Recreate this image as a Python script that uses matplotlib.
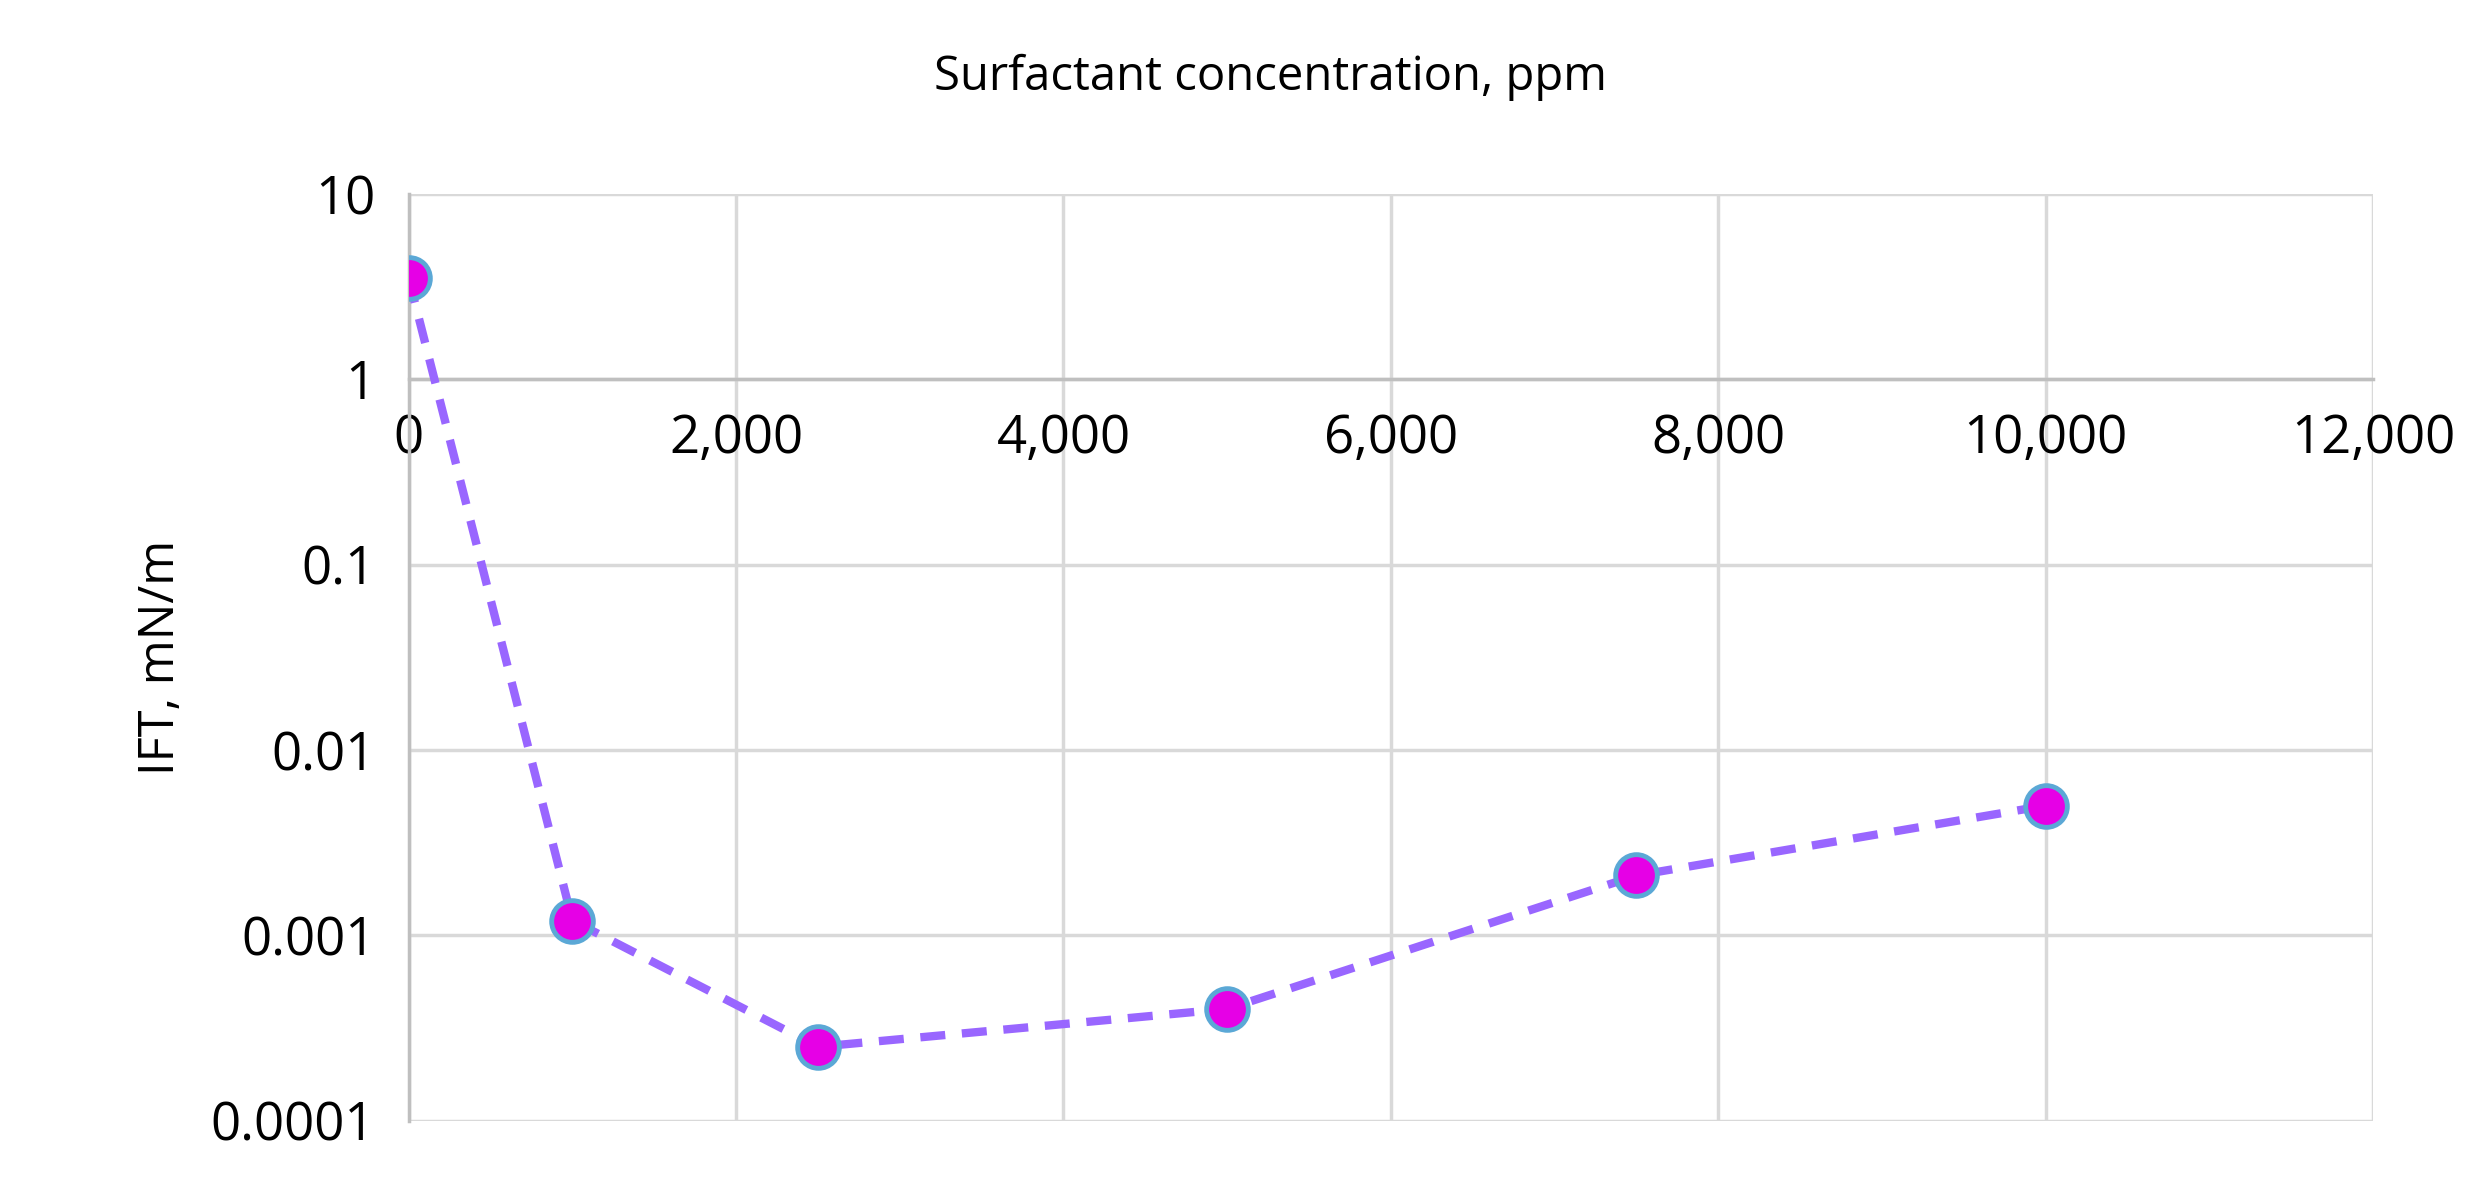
import matplotlib.pyplot as plt
from matplotlib.ticker import FixedLocator, FuncFormatter

conc = [0, 1000, 2500, 5000, 7500, 10000]
ift = [3.5, 0.0012, 0.00025, 0.0004, 0.0021, 0.005]
xticks = [0, 2000, 4000, 6000, 8000, 10000, 12000]
yticks = [0.0001, 0.001, 0.01, 0.1, 1, 10]
ylabels = ["0.0001", "0.001", "0.01", "0.1", "1", "10"]

plt.rcParams['font.family'] = ['Open Sans', 'DejaVu Sans']
fig = plt.figure(figsize=(24.77, 11.82), dpi=100)
ax = fig.add_axes([0.165, 0.052, 0.793, 0.784])

ax.plot(conc, ift, ls=(0, (3, 2)), color="#9966FF", lw=6, zorder=3)
ax.plot(conc, ift, ls="none", marker="o", ms=30, mfc="#E600E6",
        mec="#5BA8D6", mew=3.5, zorder=4)

ax.set_yscale("log")
ax.set_ylim(0.0001, 10)
ax.set_xlim(0, 12000)
ax.yaxis.set_major_locator(FixedLocator(yticks))
ax.yaxis.set_minor_locator(FixedLocator([]))
ax.set_yticklabels(ylabels)
ax.set_xticks(xticks)
ax.xaxis.set_major_formatter(FuncFormatter(lambda v, p: f"{int(v):,}"))
ax.grid(True, color="#D9D9D9", lw=2.5)
ax.set_axisbelow(True)
for s in ["top", "right"]:
    ax.spines[s].set_visible(False)
ax.spines["bottom"].set_position(("data", 1))
ax.spines["bottom"].set_color("#BFBFBF")
ax.spines["bottom"].set_linewidth(2.5)
ax.spines["left"].set_color("#BFBFBF")
ax.spines["left"].set_linewidth(2.5)
ax.tick_params(length=0, labelsize=38, pad=24)
ax.set_ylabel("IFT, mN/m", fontsize=35, labelpad=18)
fig.text(0.513, 0.935, "Surfactant concentration, ppm", fontsize=34,
         ha="center", va="center")
fig.savefig("out.png")
